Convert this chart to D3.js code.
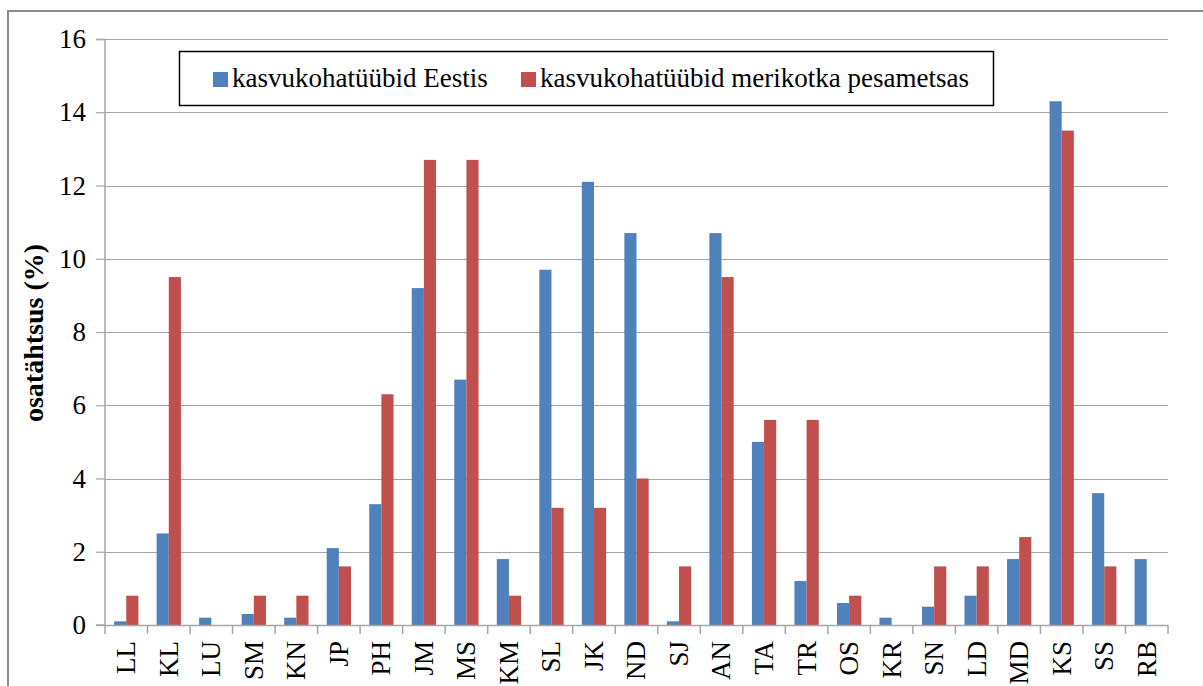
<!DOCTYPE html>
<html>
<head>
<meta charset="utf-8">
<script src="https://cdn.jsdelivr.net/npm/d3@7"></script>
<style>
  body { margin: 0; background: #fff; }
</style>
</head>
<body>
<div id="plot"></div>
<script>
const categories = ["LL", "KL", "LU", "SM", "KN", "JP", "PH", "JM", "MS", "KM", "SL", "JK", "ND",
  "SJ", "AN", "TA", "TR", "OS", "KR", "SN", "LD", "MD", "KS", "SS", "RB"];
const eestis = [0.1, 2.5, 0.2, 0.3, 0.2, 2.1, 3.3, 9.2, 6.7, 1.8, 9.7, 12.1, 10.7,
  0.1, 10.7, 5.0, 1.2, 0.6, 0.2, 0.5, 0.8, 1.8, 14.3, 3.6, 1.8];
const pesametsas = [0.8, 9.5, 0, 0.8, 0.8, 1.6, 6.3, 12.7, 12.7, 0.8, 3.2, 3.2, 4.0,
  1.6, 9.5, 5.6, 5.6, 0.8, 0, 1.6, 1.6, 2.4, 13.5, 1.6, 0];
const seriesNames = ["kasvukohatüübid Eestis", "kasvukohatüübid merikotka pesametsas"];
const yTicks = [0, 2, 4, 6, 8, 10, 12, 14, 16];

const W = 1203, H = 686;
const margin = { top: 39, right: 35, bottom: 61, left: 105 };
const width = W - margin.left - margin.right;
const height = H - margin.top - margin.bottom;
const colors = ["#4F81BD", "#C0504D"];
const serif = "'Liberation Serif', 'Times New Roman', serif";

const svg = d3.select("#plot").append("svg")
  .attr("width", W)
  .attr("height", H)
  .attr("font-family", serif);

// outer chart frame
svg.append("rect")
  .attr("x", 8).attr("y", 11)
  .attr("width", W + 20).attr("height", H + 20)
  .attr("fill", "none")
  .attr("stroke", "#8c8c8c")
  .attr("stroke-width", 2);

const g = svg.append("g")
  .attr("transform", `translate(${margin.left},${margin.top})`);

const x = d3.scaleBand()
  .domain(categories)
  .range([0, width]);

const y = d3.scaleLinear()
  .domain([0, 16])
  .range([height, 0]);

// gridlines
g.selectAll(".grid")
  .data(yTicks.filter(d => d > 0))
  .join("line")
  .attr("x1", 0).attr("x2", width)
  .attr("y1", d => Math.round(y(d)) + 0.5)
  .attr("y2", d => Math.round(y(d)) + 0.5)
  .attr("stroke", "#a6a6a6")
  .attr("stroke-width", 1.2);

// bars (gap width 150%)
const barW = x.bandwidth() / 3.5;
const xs = d3.scaleBand().domain([0, 1]).range([0, 2 * barW]);
[eestis, pesametsas].forEach((vals, si) => {
  g.selectAll(".bar" + si)
    .data(vals.map((v, i) => ({ cat: categories[i], v })))
    .join("rect")
    .attr("x", d => x(d.cat) + (x.bandwidth() - 2 * barW) / 2 + xs(si))
    .attr("y", d => y(d.v))
    .attr("width", barW)
    .attr("height", d => y(0) - y(d.v))
    .attr("fill", colors[si]);
});

// y axis
const yAxis = g.append("g")
  .call(d3.axisLeft(y).tickValues(yTicks).tickSize(9).tickPadding(10).tickFormat(d3.format("d")));
yAxis.attr("font-family", serif);
yAxis.select(".domain").attr("stroke", "#a6a6a6").attr("stroke-width", 1.5)
  .attr("d", `M-9,0.5H0V${height}H-9`);
yAxis.selectAll(".tick line").attr("stroke", "#a6a6a6").attr("stroke-width", 1.2);
yAxis.selectAll(".tick text")
  .attr("font-size", 27)
  .attr("fill", "#000");

// x axis
const xAxis = g.append("g")
  .attr("transform", `translate(0,${height})`)
  .call(d3.axisBottom(x).tickSize(0).tickPadding(0));
xAxis.attr("font-family", serif);
xAxis.select(".domain").attr("stroke", "#a6a6a6").attr("stroke-width", 1.5)
  .attr("d", `M0,0.5H${width}`);
xAxis.selectAll(".tick text")
  .attr("font-size", 27)
  .attr("fill", "#000")
  .attr("transform", "rotate(-90)")
  .attr("text-anchor", "end")
  .attr("x", -16)
  .attr("y", 0)
  .attr("dy", "0.33em");
// category boundary ticks
g.selectAll(".xtick")
  .data(categories.concat([null]))
  .join("line")
  .attr("x1", (d, i) => i < categories.length ? x(d) : width)
  .attr("x2", (d, i) => i < categories.length ? x(d) : width)
  .attr("y1", height).attr("y2", height + 9)
  .attr("stroke", "#a6a6a6")
  .attr("stroke-width", 1.5);

// y axis title
svg.append("text")
  .attr("transform", `translate(43,${333}) rotate(-90)`)
  .attr("text-anchor", "middle")
  .attr("font-size", 28)
  .attr("font-weight", "bold")
  .text("osatähtsus (%)");

// legend
const legend = svg.append("g");
legend.append("rect")
  .attr("x", 179.5).attr("y", 51.5)
  .attr("width", 814).attr("height", 54)
  .attr("fill", "#fff")
  .attr("stroke", "#000")
  .attr("stroke-width", 1.5);
const legendX = [213, 521];
seriesNames.forEach((name, i) => {
  legend.append("rect")
    .attr("x", legendX[i]).attr("y", 72)
    .attr("width", 15).attr("height", 15)
    .attr("fill", colors[i]);
  legend.append("text")
    .attr("x", legendX[i] + 19).attr("y", 87)
    .attr("font-size", 27)
    .text(name);
});
</script>
</body>
</html>
